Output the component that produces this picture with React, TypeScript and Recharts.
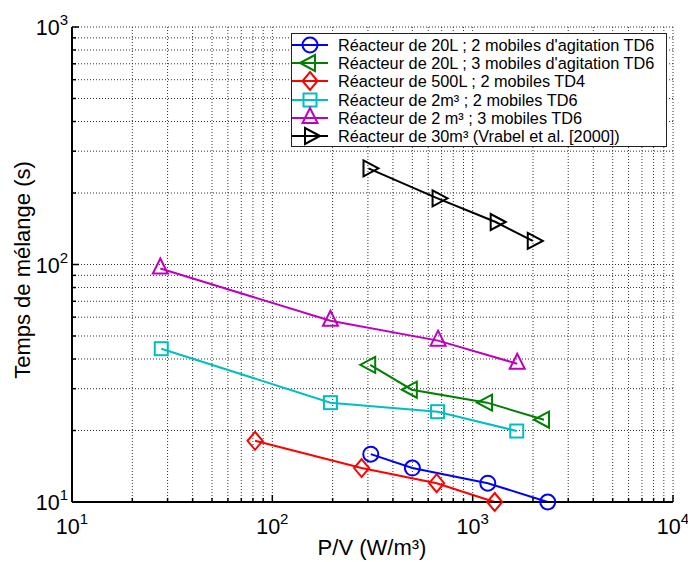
import React from 'react';
import { LineChart, Line, XAxis, YAxis, CartesianGrid, Legend } from 'recharts';

const FONT = '"Liberation Sans", Arial, Helvetica, sans-serif';

// axis decades and tick label exponents
const xDecades = [10, 100, 1000, 10000];
const xTickExponents = ['1', '2', '3', '4'];
const yDecades = [10, 100, 1000];
const yTickExponents = ['1', '2', '3'];
const minorFactors = [2, 3, 4, 5, 6, 7, 8, 9];

const xTitle = 'P/V (W/m³)';
const yTitle = 'Temps de mélange (s)';

// series values (P/V in W/m³, mixing time in s)
const blueName = "Réacteur de 20L ; 2 mobiles d'agitation TD6";
const blueX = [310, 500, 1190, 2370];
const blueY = [15.9, 13.9, 12.0, 10.0];

const greenName = "Réacteur de 20L ; 3 mobiles d'agitation TD6";
const greenX = [308, 497, 1180, 2270];
const greenY = [37.8, 29.7, 26.2, 22.2];

const redName = 'Réacteur de 500L ; 2 mobiles TD4';
const redX = [82, 279, 661, 1288];
const redY = [18.1, 13.9, 12.0, 10.0];

const cyanName = 'Réacteur de 2m³ ; 2 mobiles TD6';
const cyanX = [27.9, 195, 668, 1660];
const cyanY = [44.2, 26.2, 24.0, 19.9];

const magentaName = 'Réacteur de 2 m³ ; 3 mobiles TD6';
const magentaX = [27.6, 195, 672, 1669];
const magentaY = [96.2, 58.0, 47.8, 38.2];

const blackName = 'Réacteur de 30m³ (Vrabel et al. [2000])';
const blackX = [302, 668, 1303, 1995];
const blackY = [254, 190, 151, 125.7];

type Shape = 'circle' | 'triLeft' | 'diamond' | 'square' | 'triUp' | 'triRight';

const seriesDefs: { name: string; color: string; shape: Shape; x: number[]; y: number[] }[] = [
  { name: blueName, color: '#0000FF', shape: 'circle', x: blueX, y: blueY },
  { name: greenName, color: '#008000', shape: 'triLeft', x: greenX, y: greenY },
  { name: redName, color: '#FF0000', shape: 'diamond', x: redX, y: redY },
  { name: cyanName, color: '#00BFBF', shape: 'square', x: cyanX, y: cyanY },
  { name: magentaName, color: '#BF00BF', shape: 'triUp', x: magentaX, y: magentaY },
  { name: blackName, color: '#000000', shape: 'triRight', x: blackX, y: blackY },
];

const series = seriesDefs.map((s) => ({
  ...s,
  data: s.x.map((x, i) => ({ x, y: s.y[i] })),
}));

const buildTicks = (decades: number[]) =>
  decades.flatMap((d, i) => (i < decades.length - 1 ? [d, ...minorFactors.map((f) => d * f)] : [d]));

const xTicks = buildTicks(xDecades);
const yTicks = buildTicks(yDecades);

function Marker({ shape, cx, cy, color }: { shape: Shape; cx: number; cy: number; color: string }) {
  const common = { fill: 'none', stroke: color, strokeWidth: 2 };
  switch (shape) {
    case 'circle':
      return <circle cx={cx} cy={cy} r={7.5} {...common} />;
    case 'diamond':
      return (
        <polygon
          points={`${cx},${cy - 9} ${cx + 7.5},${cy} ${cx},${cy + 9} ${cx - 7.5},${cy}`}
          {...common}
        />
      );
    case 'square':
      return <rect x={cx - 6.5} y={cy - 6.5} width={13} height={13} {...common} />;
    case 'triUp':
      return (
        <polygon points={`${cx},${cy - 10} ${cx + 7.5},${cy + 5} ${cx - 7.5},${cy + 5}`} {...common} />
      );
    case 'triLeft':
      return (
        <polygon points={`${cx - 10},${cy} ${cx + 5},${cy - 8} ${cx + 5},${cy + 8}`} {...common} />
      );
    case 'triRight':
      return (
        <polygon points={`${cx + 10},${cy} ${cx - 5},${cy - 8} ${cx - 5},${cy + 8}`} {...common} />
      );
  }
  return null;
}

const makeDot = (shape: Shape, color: string) => (props: any) => {
  const { cx, cy, index } = props;
  if (cx == null || cy == null) return <g key={`d-${index}`} />;
  return (
    <g key={`d-${shape}-${index}`}>
      <Marker shape={shape} cx={cx} cy={cy} color={color} />
    </g>
  );
};

const MAJ = 7;
const MIN = 4;

const XTickBottom = (props: any) => {
  const { x, y, payload } = props;
  const idx = xDecades.indexOf(payload.value);
  const major = idx >= 0;
  return (
    <g>
      <line x1={x} x2={x} y1={y} y2={y - (major ? MAJ : MIN)} stroke="#000" strokeWidth={1.5} />
      {major && (
        <text x={x} y={y + 32} textAnchor="middle" fontFamily={FONT} fontSize={21.5} fill="#000">
          10
          <tspan dy={-10} fontSize={15}>
            {xTickExponents[idx]}
          </tspan>
        </text>
      )}
    </g>
  );
};

const XTickTop = (props: any) => {
  const { x, y, payload } = props;
  const major = xDecades.indexOf(payload.value) >= 0;
  return <line x1={x} x2={x} y1={y} y2={y + (major ? MAJ : MIN)} stroke="#000" strokeWidth={1.5} />;
};

const YTickLeft = (props: any) => {
  const { x, y, payload } = props;
  const idx = yDecades.indexOf(payload.value);
  const major = idx >= 0;
  return (
    <g>
      <line x1={x} x2={x + (major ? MAJ : MIN)} y1={y} y2={y} stroke="#000" strokeWidth={1.5} />
      {major && (
        <text x={x - 4} y={y + 8} textAnchor="end" fontFamily={FONT} fontSize={21.5} fill="#000">
          10
          <tspan dy={-10} fontSize={15}>
            {yTickExponents[idx]}
          </tspan>
        </text>
      )}
    </g>
  );
};

const YTickRight = (props: any) => {
  const { x, y, payload } = props;
  const major = yDecades.indexOf(payload.value) >= 0;
  return <line x1={x} x2={x - (major ? MAJ : MIN)} y1={y} y2={y} stroke="#000" strokeWidth={1.5} />;
};

const LegendBox = () => (
  <div
    style={{
      width: 376,
      boxSizing: 'border-box',
      border: '1px solid #222',
      background: '#fff',
      padding: '2px 0 1px 0',
      fontFamily: FONT,
      fontSize: 16.3,
      color: '#000',
    }}
  >
    {series.map((s) => (
      <div key={s.name} style={{ display: 'flex', alignItems: 'center', height: 18.2 }}>
        <svg width={38} height={18} style={{ overflow: 'visible', flex: 'none' }}>
          <line x1={0} x2={36} y1={9} y2={9} stroke={s.color} strokeWidth={2} />
          <Marker shape={s.shape} cx={18} cy={9} color={s.color} />
        </svg>
        <span style={{ marginLeft: 8, whiteSpace: 'nowrap', lineHeight: '18px' }}>{s.name}</span>
      </div>
    ))}
  </div>
);

export default function App() {
  return (
    <div style={{ position: 'absolute', left: 0, top: 0, width: 688, height: 562, background: '#fff' }}>
      <LineChart width={688} height={562} margin={{ top: 27, right: 15, bottom: 30, left: 12 }}>
        <CartesianGrid
          xAxisId="bottom"
          yAxisId="left"
          stroke="#333"
          strokeDasharray="1 2"
          strokeWidth={1}
        />
        <XAxis
          xAxisId="bottom"
          dataKey="x"
          type="number"
          scale="log"
          domain={[10, 10000]}
          ticks={xTicks}
          interval={0}
          tickSize={0}
          tickMargin={0}
          tickLine={false}
          tick={<XTickBottom />}
          axisLine={{ stroke: '#000', strokeWidth: 2 }}
          height={30}
        />
        <XAxis
          xAxisId="top"
          orientation="top"
          type="number"
          scale="log"
          domain={[10, 10000]}
          ticks={xTicks}
          interval={0}
          tickSize={0}
          tickMargin={0}
          tickLine={false}
          tick={<XTickTop />}
          axisLine={{ stroke: '#000', strokeWidth: 2 }}
          height={0}
        />
        <YAxis
          yAxisId="left"
          dataKey="y"
          type="number"
          scale="log"
          domain={[10, 1000]}
          ticks={yTicks}
          interval={0}
          tickSize={0}
          tickMargin={0}
          tickLine={false}
          tick={<YTickLeft />}
          axisLine={{ stroke: '#000', strokeWidth: 2 }}
          width={60}
        />
        <YAxis
          yAxisId="right"
          orientation="right"
          type="number"
          scale="log"
          domain={[10, 1000]}
          ticks={yTicks}
          interval={0}
          tickSize={0}
          tickMargin={0}
          tickLine={false}
          tick={<YTickRight />}
          axisLine={{ stroke: '#000', strokeWidth: 2 }}
          width={0}
        />
        {series.map((s) => (
          <Line
            key={s.name}
            xAxisId="bottom"
            yAxisId="left"
            data={s.data}
            dataKey="y"
            name={s.name}
            stroke={s.color}
            strokeWidth={2}
            dot={makeDot(s.shape, s.color)}
            activeDot={false}
            isAnimationActive={false}
          />
        ))}
        <Legend
          layout="vertical"
          align="center"
          verticalAlign="middle"
          wrapperStyle={{ left: 291, top: 33, width: 376 }}
          content={() => <LegendBox />}
        />
      </LineChart>
      <svg
        width={688}
        height={562}
        style={{ position: 'absolute', left: 0, top: 0, pointerEvents: 'none' }}
      >
        <text x={372} y={555} textAnchor="middle" fontFamily={FONT} fontSize={22} fill="#000">
          {xTitle}
        </text>
        <text
          x={30}
          y={270}
          textAnchor="middle"
          fontFamily={FONT}
          fontSize={22}
          fill="#000"
          transform="rotate(-90 30 270)"
        >
          {yTitle}
        </text>
      </svg>
    </div>
  );
}
